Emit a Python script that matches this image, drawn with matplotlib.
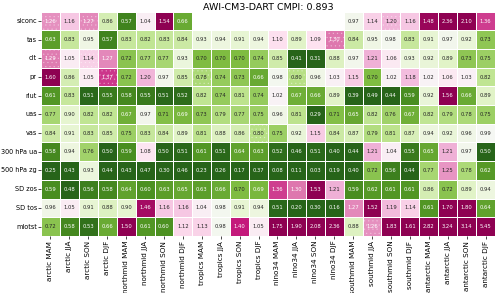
import numpy as np
import pandas as pd
import matplotlib
matplotlib.use("Agg")
import matplotlib.pyplot as plt
from matplotlib.patches import Rectangle
import seaborn as sns

variables = ["siconc", "tas", "clt", "pr", "rlut", "uas", "vas",
             "300 hPa ua", "500 hPa zg", "SD zos", "SD tos", "mlotst"]
regions = ["arctic", "northmid", "tropics", "nino34", "southmid", "antarctic"]
seasons = ["MAM", "JJA", "SON", "DJF"]
columns = [f"{r} {s}" for r in regions for s in seasons]

nan = np.nan
siconc = [1.26, 1.16, 1.27, 0.86, 0.57, 1.04, 1.54, 0.66, nan, nan, nan, nan,
          nan, nan, nan, nan, 0.97, 1.14, 1.20, 1.16, 1.48, 2.36, 2.10, 1.36]
tas = [0.63, 0.83, 0.95, 0.57, 0.83, 0.82, 0.83, 0.84, 0.93, 0.94, 0.91, 0.94,
       1.10, 0.89, 1.09, 1.30, 0.84, 0.95, 0.98, 0.83, 0.91, 0.97, 0.92, 0.73]
clt = [1.29, 1.05, 1.14, 1.27, 0.72, 0.77, 0.77, 0.93, 0.70, 0.70, 0.70, 0.74,
       0.85, 0.41, 0.31, 0.88, 0.97, 1.21, 1.06, 0.93, 0.92, 0.89, 0.73, 0.75]
pr = [1.60, 0.86, 1.05, 1.37, 0.72, 1.20, 0.97, 0.85, 0.78, 0.74, 0.73, 0.66,
      0.98, 0.80, 0.96, 1.03, 1.15, 0.70, 1.02, 1.18, 1.02, 1.06, 1.03, 0.82]
rlut = [0.61, 0.83, 0.51, 0.55, 0.58, 0.55, 0.51, 0.52, 0.82, 0.74, 0.81, 0.74,
        1.02, 0.67, 0.66, 0.89, 0.39, 0.49, 0.44, 0.59, 0.92, 1.56, 0.66, 0.89]
uas = [0.77, 0.90, 0.82, 0.82, 0.67, 0.97, 0.71, 0.69, 0.73, 0.79, 0.77, 0.75,
       0.96, 0.81, 0.29, 0.71, 0.65, 0.82, 0.76, 0.67, 0.82, 0.79, 0.78, 0.75]
vas = [0.84, 0.91, 0.83, 0.85, 0.75, 0.83, 0.84, 0.89, 0.81, 0.88, 0.86, 0.80,
       0.75, 0.92, 1.15, 0.84, 0.87, 0.79, 0.81, 0.87, 0.94, 0.92, 0.96, 0.99]
ua300 = [0.58, 0.94, 0.76, 0.50, 0.59, 1.08, 0.50, 0.51, 0.61, 0.51, 0.64, 0.63,
         0.52, 0.46, 0.51, 0.40, 0.44, 1.21, 1.04, 0.55, 0.65, 1.21, 0.97, 0.50]
zg500 = [0.25, 0.43, 0.93, 0.44, 0.43, 0.47, 0.30, 0.46, 0.23, 0.26, 0.17, 0.37,
         0.08, 0.11, 0.03, 0.19, 0.40, 0.72, 0.56, 0.44, 0.77, 1.25, 0.78, 0.62]
sd_zos = [0.59, 0.48, 0.56, 0.58, 0.64, 0.60, 0.63, 0.65, 0.63, 0.66, 0.70, 0.69,
          1.36, 1.30, 1.53, 1.21, 0.59, 0.62, 0.61, 0.61, 0.86, 0.72, 0.89, 0.94]
sd_tos = [0.96, 1.05, 0.91, 0.88, 0.90, 1.46, 1.16, 1.16, 1.04, 0.98, 0.91, 0.94,
          0.51, 0.20, 0.30, 0.16, 1.27, 1.52, 1.19, 1.14, 0.61, 1.70, 1.80, 0.64]
mlotst = [0.72, 0.58, 0.53, 0.66, 1.50, 0.61, 0.60, 1.12, 1.13, 0.98, 1.40, 1.05,
          1.75, 1.90, 2.08, 2.36, 0.88, 1.26, 1.83, 1.61, 2.82, 3.24, 3.14, 5.45]

# cells drawn with a dotted hatch (row, column)
hatched = [(0, 0), (0, 2), (2, 0), (2, 2), (3, 3), (1, 15), (3, 8),
           (3, 13), (0, 18), (6, 11), (11, 17)]

title = "AWI-CM3-DART CMPI: 0.893"

df = pd.DataFrame([siconc, tas, clt, pr, rlut, uas, vas, ua300, zg500,
                   sd_zos, sd_tos, mlotst], index=variables, columns=columns)

plt.rcParams["hatch.linewidth"] = 0.4
fig = plt.figure(figsize=(5.0, 2.93), dpi=100)
ax = fig.add_axes([0.082, 0.195, 0.908, 0.765])
sns.heatmap(df, ax=ax, cmap="PiYG_r", vmin=0.5, vmax=1.5, center=1.0,
            annot=True, fmt=".2f", annot_kws={"fontsize": 3.8},
            linewidths=0.6, linecolor="white", cbar=False)
for r, c in hatched:
    ax.add_patch(Rectangle((c, r), 1, 1, fill=False, hatch="....",
                           edgecolor=(1, 1, 1, 0.35), linewidth=0))
ax.set_title(title, fontsize=6.8, pad=1.5)
ax.tick_params(axis="x", labelsize=5.2, length=2, width=0.5, pad=1.5)
ax.tick_params(axis="y", labelsize=4.7, length=2, width=0.5, pad=1)
plt.setp(ax.get_xticklabels(), rotation=90)
plt.setp(ax.get_yticklabels(), rotation=0)

fig.savefig("out.png", dpi=100)
